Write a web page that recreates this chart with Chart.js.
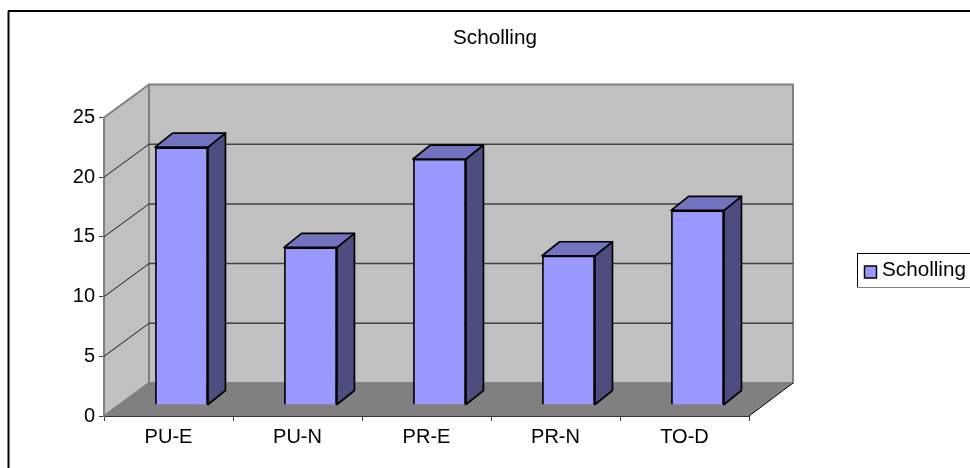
<!DOCTYPE html>
<html><head><meta charset="utf-8">
<style>html,body{margin:0;padding:0;background:#fff}canvas{display:block}</style>
<script src="https://cdn.jsdelivr.net/npm/chart.js@4"></script></head>
<body><div style="width:970px;height:468px"><canvas id="c" width="970" height="468"></canvas></div>
<script>
const categories = ["PU-E","PU-N","PR-E","PR-N","TO-D"];
const seriesName = "Scholling";
const scholling = [21.6,13.2,20.6,12.5,16.3];
const yTicks = [0,5,10,15,20,25];
const FONT = '20.7px "Liberation Sans", Arial, sans-serif';
const wallDepth = {x:45,y:-33};
const barShift = {x:13,y:-11};
const barDepth = {x:17.5,y:-14};
function poly(ctx,pts,fill,stroke,lw){
  ctx.beginPath();pts.forEach((p,i)=>i?ctx.lineTo(p[0],p[1]):ctx.moveTo(p[0],p[1]));ctx.closePath();
  if(fill){ctx.fillStyle=fill;ctx.fill();}
  if(stroke){ctx.strokeStyle=stroke;ctx.lineWidth=lw;ctx.lineJoin='round';ctx.stroke();}
}
function seg(ctx,a,b,c,d,col,lw){ctx.beginPath();ctx.moveTo(a,b);ctx.lineTo(c,d);ctx.strokeStyle=col;ctx.lineWidth=lw;ctx.stroke();}
const scene = {
  id:'scene',
  beforeDatasetsDraw(chart){
    const {ctx,chartArea:a,scales:{y}}=chart, d=wallDepth;
    ctx.save();
    seg(ctx,8.5,468,8.5,11,'#000',2);seg(ctx,8,11,970,11,'#000',2);
    const L=a.left,R=a.right,T=a.top,B=a.bottom;
    poly(ctx,[[L+d.x,T+d.y],[R+d.x-1,T+d.y],[R+d.x-1,B+d.y],[L+d.x,B+d.y]],'#C0C0C0','#808080',2);
    poly(ctx,[[L,T],[L+d.x,T+d.y],[L+d.x,B+d.y],[L,B]],'#C0C0C0','#808080',2);
    poly(ctx,[[L,B],[L+d.x,B+d.y],[R+d.x-1,B+d.y],[R,B]],'#808080');
    yTicks.forEach(v=>{
      const p=y.getPixelForValue(v);
      if(v>0&&v<25){
        seg(ctx,L,p,L+d.x,p+d.y,'#1a1a1a',1);
        seg(ctx,L+d.x,p+d.y,R+d.x-1,p+d.y,'#404040',1.5);
      }
    });
    seg(ctx,R+d.x-1,B+d.y,R,B,'#000',1);
    seg(ctx,L,B,L+d.x,B+d.y,'#808080',1);
    ctx.restore();
  },
  beforeDatasetDraw(chart){
    const ctx=chart.ctx, d=barDepth;
    ctx.save();
    ctx.translate(barShift.x,barShift.y);
    chart.getDatasetMeta(0).data.forEach(b=>{
      const l=b.x-b.width/2,r=b.x+b.width/2,t=b.y,bt=b.base;
      poly(ctx,[[r,t],[r+d.x,t+d.y],[r+d.x,bt+d.y],[r,bt]],'#4D4D80','#000',1.7);
      poly(ctx,[[l,t],[l+d.x,t+d.y],[r+d.x,t+d.y],[r,t]],'#7373BF','#000',1.7);
    });
  },
  afterDatasetDraw(chart){chart.ctx.restore();},
  afterDraw(chart){
    const ctx=chart.ctx;
    ctx.save();
    ctx.font=FONT;ctx.textBaseline='middle';ctx.textAlign='center';ctx.fillStyle='#000';
    ctx.fillText(seriesName,495,38);
    ctx.fillStyle='#fff';
    ctx.fillRect(857,253.5,113,34);
    seg(ctx,857,253.5,970,253.5,'#000',1);seg(ctx,857.5,253,857.5,288,'#000',1);seg(ctx,857,287.5,970,287.5,'#808080',1);
    ctx.fillStyle='#9999FF';ctx.fillRect(864.5,266,12,12);ctx.strokeStyle='#000';ctx.lineWidth=1.5;ctx.strokeRect(864.5,266,12,12);
    ctx.textAlign='left';ctx.fillStyle='#000';ctx.fillText(seriesName,882,270);
    ctx.restore();
  }
};
new Chart(document.getElementById('c'),{
  type:'bar',
  data:{labels:categories,datasets:[{label:seriesName,data:scholling,backgroundColor:'#9999FF',borderColor:'#000',borderWidth:1.8,barPercentage:0.41,categoryPercentage:1}]},
  plugins:[scene],
  options:{
    responsive:false,animation:false,
    layout:{padding:{top:117.5,right:221,left:0,bottom:0}},
    plugins:{legend:{display:false},title:{display:false},tooltip:{enabled:false}},
    scales:{
      x:{afterFit:s=>{s.height=52},
        grid:{display:true,drawOnChartArea:false,drawTicks:true,tickLength:5,color:'#404040',offset:true},
        border:{display:true,color:'#333',width:2},
        ticks:{color:'#000',font:{family:'"Liberation Sans", Arial, sans-serif',size:20},padding:4,maxRotation:0}},
      y:{min:0,max:25,afterFit:s=>{s.width=104},
        afterBuildTicks:s=>{s.ticks=yTicks.map(v=>({value:v}))},
        grid:{display:true,drawOnChartArea:false,drawTicks:true,tickLength:5,color:'#404040'},
        border:{display:true,color:'#555',width:1.8},
        ticks:{color:'#000',font:{family:'"Liberation Sans", Arial, sans-serif',size:20},padding:4}}
    }
  }
});
</script></body></html>
